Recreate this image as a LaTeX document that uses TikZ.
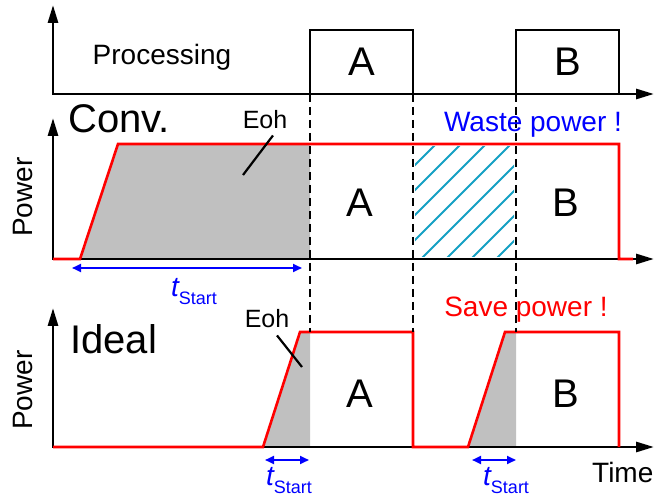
\documentclass[tikz,border=0pt]{standalone}
\usepackage{fontspec}
\setmainfont{Liberation Sans}
\usepackage{xcolor}
\usetikzlibrary{arrows.meta}

\definecolor{hatchblue}{RGB}{20,160,195}
\definecolor{ohgray}{RGB}{192,192,192}
\newcommand{\tStart}{{\fontsize{28}{28}\selectfont\itshape t}{\fontsize{18}{18}\selectfont\raisebox{-8pt}{Start}}}

\begin{document}
\begin{tikzpicture}[
    x=1pt, y=-1pt,
    axis/.style={line width=2.8pt,
                 {Triangle[length=18pt,width=10pt]}-{Triangle[length=18pt,width=10pt]}},
    procbox/.style={draw, line width=2.6pt, outer sep=0pt, inner sep=0pt,
                    minimum width=103pt, minimum height=64pt,
                    font=\fontsize{40}{40}\selectfont},
    wave/.style={draw=red, line width=2.6pt},
    guide/.style={dash pattern=on 8pt off 5pt, line width=2.3pt},
    hatch/.style={hatchblue, line width=1.8pt},
    span/.style={blue, line width=2.2pt,
                 {Triangle[length=9pt,width=8pt]}-{Triangle[length=9pt,width=8pt]}},
    lead/.style={line width=2.2pt},
    bigtxt/.style={font=\fontsize{40}{40}\selectfont, inner sep=0pt},
    midtxt/.style={font=\fontsize{28}{28}\selectfont, inner sep=0pt},
    eohtxt/.style={font=\fontsize{25}{25}\selectfont, inner sep=0pt},
]
\useasboundingbox (0,0) rectangle (654,497);

% overhead energy and wasted interval
\fill[ohgray] (80,259) -- (118,144) -- (310,144) -- (310,259) -- cycle;
\fill[ohgray] (263,447) -- (300,332) -- (310,332) -- (310,447) -- cycle;
\fill[ohgray] (468,447) -- (505,332) -- (516,332) -- (516,447) -- cycle;
\begin{scope}
    \clip (415,147) rectangle (514,257);
    \foreach \s in {-120,-95,...,80}
        \draw[hatch] (413+\s,262) -- ++(125,-125);
\end{scope}

% axes
\foreach \n/\yb/\yt in {1/94/5, 2/259/118, 3/447/308} {
    \coordinate (top\n) at (53,\yt);
    \coordinate (org\n) at (53,\yb);
    \coordinate (end\n) at (654,\yb);
    \draw[axis] (top\n) -- (org\n) -- (end\n);
}

% processing
\node[procbox] (boxA) at (361.5,62) {A};
\node[procbox] (boxB) at (567.5,62) {B};
\node[midtxt, anchor=base] (proc) at (162,65) {Processing};

% power curves
\draw[wave] (53,259) -- (80,259) -- (118,144) -- (619,144) -- (619,259) -- (633,259);
\draw[wave] (53,447) -- (263,447) -- (300,332) -- (413,332) -- (413,447)
    -- (468,447) -- (505,332) -- (619,332) -- (619,447);

% job borders
\coordinate (cut1) at (310,332);
\coordinate (cut2) at (413,332);
\coordinate (cut3) at (516,332);
\draw[guide] (boxA.south west) -- (cut1);
\draw[guide] (boxA.south east) -- (cut2);
\draw[guide] (boxB.south west) -- (cut3);

% labels
\node[bigtxt, anchor=base west] (conv) at (68,133) {Conv.};
\node[bigtxt, anchor=base west] (ideal) at (70,353) {Ideal};
\node[midtxt, anchor=base, rotate=90] (powC) at (32,197) {Power};
\node[midtxt, anchor=base, rotate=90] (powI) at (32,390) {Power};
\node[bigtxt, anchor=base] (convA) at (360,217) {A};
\node[bigtxt, anchor=base] (convB) at (566,217) {B};
\node[bigtxt, anchor=base] (idA) at (360,407) {A};
\node[bigtxt, anchor=base] (idB) at (566,407) {B};
\node[midtxt, anchor=base, blue] (waste) at (533,132) {Waste power !};
\node[midtxt, anchor=base, red] (save) at (526,317) {Save power !};
\node[midtxt, anchor=base west] (time) at (592,482) {Time};

% overhead marks
\node[eohtxt, anchor=base] (eohC) at (265,129) {Eoh};
\node[eohtxt, anchor=base] (eohI) at (267,328) {Eoh};
\coordinate (eohCtip) at (243,175);
\coordinate (eohItip) at (302,367);
\draw[lead] (eohC.south) ++(8,6) -- (eohCtip);
\draw[lead] (eohI.south) ++(10,7) -- (eohItip);

% start-up times
\coordinate (tsC1) at (72,268);
\coordinate (tsC2) at (302,268);
\coordinate (tsI1) at (265,460);
\coordinate (tsI2) at (309,460);
\coordinate (tsJ1) at (472,460);
\coordinate (tsJ2) at (516,460);
\draw[span] (tsC1) -- (tsC2);
\draw[span] (tsI1) -- (tsI2);
\draw[span] (tsJ1) -- (tsJ2);
\node[anchor=base west, inner sep=0pt, blue] (tC) at (171,297) {\tStart};
\node[anchor=base west, inner sep=0pt, blue] (tI) at (266,485) {\tStart};
\node[anchor=base west, inner sep=0pt, blue] (tJ) at (483,485) {\tStart};
\end{tikzpicture}
\end{document}
